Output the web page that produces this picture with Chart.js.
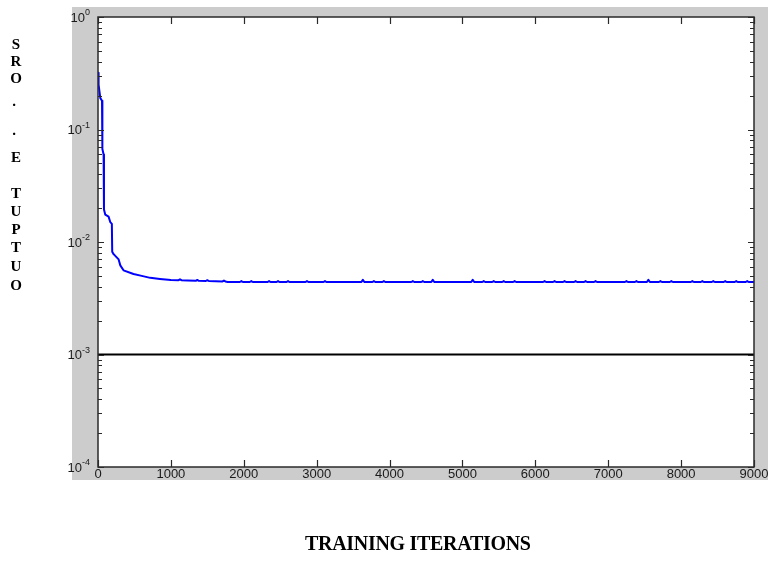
<!DOCTYPE html>
<html>
<head>
<meta charset="utf-8">
<script src="https://cdn.jsdelivr.net/npm/chart.js@4.4.0/dist/chart.umd.min.js"></script>
<style>
body { margin: 0; background: #fff; }
#wrap { position: relative; width: 768px; height: 562px; overflow: hidden; }
canvas { position: absolute; left: 0; top: 0; }
.yl { position: absolute; left: 6px; width: 20px; text-align: center; font: bold 15px "Liberation Serif", serif; line-height: 16px; color: #000; }
#xt { position: absolute; left: 305px; top: 533px; font: bold 20px "Liberation Serif", serif; line-height: 20px; color: #000; white-space: nowrap; letter-spacing: -0.3px; }
</style>
</head>
<body>
<div id="wrap">
  <canvas id="chart" width="768" height="562"></canvas>
  <div id="ytitle"></div>
  <div id="xt">TRAINING ITERATIONS</div>
</div>
<script>
// training error curve (iteration, error); small bumps are the spikes on the plateau
const iterations = [
  0, 8, 32, 55, 60, 77, 82, 100, 145, 169, 190, 195, 214, 283, 306, 350, 487, 600, 717, 850, 1000,
  1105, 1125, 1145,
  1225,
  1342, 1362, 1382,
  1480, 1500, 1520,
  1708, 1728, 1748,
  1780,
  1947, 1967, 1987,
  2083, 2103, 2123,
  2327, 2347, 2367,
  2450, 2470, 2490,
  2587, 2607, 2627,
  2847, 2867, 2887,
  3094, 3114, 3134,
  3614, 3634, 3654,
  3765, 3785, 3805,
  3902, 3922, 3942,
  4299, 4319, 4339,
  4436, 4456, 4476,
  4573, 4593, 4613,
  5121, 5141, 5161,
  5272, 5292, 5312,
  5409, 5429, 5449,
  5546, 5566, 5586,
  5696, 5716, 5736,
  6107, 6127, 6147,
  6244, 6264, 6284,
  6381, 6401, 6421,
  6532, 6552, 6572,
  6669, 6689, 6709,
  6806, 6826, 6846,
  7230, 7250, 7270,
  7367, 7387, 7407,
  7531, 7551, 7571,
  7696, 7716, 7736,
  7846, 7866, 7886,
  8134, 8154, 8174,
  8271, 8291, 8311,
  8421, 8441, 8461,
  8585, 8605, 8625,
  8736, 8756, 8776,
  8887, 8907, 8927,
  9000
];
const errors = [
  0.32, 0.25, 0.19, 0.18, 0.067, 0.06, 0.0194, 0.0175, 0.0168, 0.015, 0.0145, 0.0082, 0.0078, 0.0070, 0.0062, 0.0056, 0.0052, 0.0050, 0.0048, 0.0047, 0.0046,
  0.00458, 0.00466, 0.00458,
  0.00455,
  0.00452, 0.0046, 0.00452,
  0.0045, 0.00458, 0.0045,
  0.00446, 0.00454, 0.00446,
  0.00441,
  0.00441, 0.00449, 0.00441,
  0.00441, 0.00449, 0.00441,
  0.00441, 0.00449, 0.00441,
  0.00441, 0.00449, 0.00441,
  0.00441, 0.00449, 0.00441,
  0.00441, 0.00449, 0.00441,
  0.00441, 0.00449, 0.00441,
  0.00441, 0.00462, 0.00441,
  0.00441, 0.00449, 0.00441,
  0.00441, 0.00449, 0.00441,
  0.00441, 0.00449, 0.00441,
  0.00441, 0.00449, 0.00441,
  0.00441, 0.00462, 0.00441,
  0.00441, 0.00462, 0.00441,
  0.00441, 0.00449, 0.00441,
  0.00441, 0.00449, 0.00441,
  0.00441, 0.00449, 0.00441,
  0.00441, 0.00449, 0.00441,
  0.00441, 0.00449, 0.00441,
  0.00441, 0.00449, 0.00441,
  0.00441, 0.00449, 0.00441,
  0.00441, 0.00449, 0.00441,
  0.00441, 0.00449, 0.00441,
  0.00441, 0.00449, 0.00441,
  0.00441, 0.00449, 0.00441,
  0.00441, 0.00449, 0.00441,
  0.00441, 0.00462, 0.00441,
  0.00441, 0.00449, 0.00441,
  0.00441, 0.00449, 0.00441,
  0.00441, 0.00449, 0.00441,
  0.00441, 0.00449, 0.00441,
  0.00441, 0.00449, 0.00441,
  0.00441, 0.00449, 0.00441,
  0.00441, 0.00449, 0.00441,
  0.00441, 0.00449, 0.00441,
  0.00441
];

// goal line
const goalIters = [0, 9000];
const goalErrors = [0.001, 0.001];

// axis ticks
const xTicks = [0, 1000, 2000, 3000, 4000, 5000, 6000, 7000, 8000, 9000];
const yMajor = [1e-4, 1e-3, 1e-2, 1e-1, 1];
const yExponents = ['-4', '-3', '-2', '-1', '0'];
const yMinorSteps = [2, 3, 4, 5, 6, 7, 8, 9];

// stacked y-axis title, as printed
const yTitle = ['S', 'R', 'O', '.', '.', 'E', 'T', 'U', 'P', 'T', 'U', 'O'];
const yTitlePos = [44, 61, 78, 101, 130, 157, 193, 211, 229, 247, 266, 285];

const yt = document.getElementById('ytitle');
yTitle.forEach((ch, i) => {
  const s = document.createElement('div');
  s.className = 'yl';
  s.textContent = ch;
  s.style.top = (yTitlePos[i] - 8) + 'px';
  if (ch === '.') s.style.left = '4px';
  yt.appendChild(s);
});

const axisColor = '#2a2a2a';

const frame = {
  id: 'frame',
  beforeDraw(chart) {
    const c = chart.ctx;
    const a = chart.chartArea;
    c.save();
    c.fillStyle = '#cccccc';
    c.fillRect(72, 7, 696, 473);
    c.fillStyle = '#ffffff';
    c.fillRect(a.left, a.top, a.right - a.left, a.bottom - a.top);
    c.restore();
  },
  afterDraw(chart) {
    const c = chart.ctx;
    const a = chart.chartArea;
    const xs = chart.scales.x;
    const ys = chart.scales.y;
    c.save();
    c.strokeStyle = axisColor;
    c.lineWidth = 1.5;
    c.strokeRect(a.left, a.top, a.right - a.left, a.bottom - a.top);

    c.lineWidth = 1.2;
    c.beginPath();
    xTicks.forEach(v => {
      const px = Math.round(xs.getPixelForValue(v)) + 0.5;
      c.moveTo(px, a.bottom); c.lineTo(px, a.bottom - 7);
      c.moveTo(px, a.top); c.lineTo(px, a.top + 7);
    });
    yMajor.forEach((v, i) => {
      const py = Math.round(ys.getPixelForValue(v)) + 0.5;
      c.moveTo(a.left, py); c.lineTo(a.left + 6, py);
      c.moveTo(a.right, py); c.lineTo(a.right - 6, py);
      if (i < yMajor.length - 1) {
        yMinorSteps.forEach(m => {
          const pm = Math.round(ys.getPixelForValue(v * m)) + 0.5;
          c.moveTo(a.left, pm); c.lineTo(a.left + 4, pm);
          c.moveTo(a.right, pm); c.lineTo(a.right - 4, pm);
        });
      }
    });
    c.stroke();

    // x tick labels
    c.fillStyle = '#1a1a1a';
    c.font = '13px "Liberation Sans", Arial, sans-serif';
    c.textAlign = 'center';
    c.textBaseline = 'top';
    xTicks.forEach(v => {
      c.fillText(String(v), xs.getPixelForValue(v), a.bottom + 1);
    });

    // y tick labels 10^n
    yMajor.forEach((v, i) => {
      const py = ys.getPixelForValue(v);
      const right = 90;
      c.font = '9px "Liberation Sans", Arial, sans-serif';
      c.textAlign = 'right';
      c.textBaseline = 'alphabetic';
      const ew = c.measureText(yExponents[i]).width;
      c.fillText(yExponents[i], right, py - 2);
      c.font = '13px "Liberation Sans", Arial, sans-serif';
      c.textBaseline = 'middle';
      c.fillText('10', right - ew, py + 1);
    });
    c.restore();
  }
};

const ctx = document.getElementById('chart').getContext('2d');
const chart = new Chart(ctx, {
  type: 'line',
  data: {
    datasets: [
      {
        data: iterations.map((x, i) => ({ x: x, y: errors[i] })),
        borderColor: '#0000ff',
        borderWidth: 2,
        borderJoinStyle: 'round',
        pointRadius: 0,
        tension: 0,
        fill: false
      },
      {
        data: goalIters.map((x, i) => ({ x: x, y: goalErrors[i] })),
        borderColor: '#000000',
        borderWidth: 2,
        pointRadius: 0,
        tension: 0,
        fill: false
      }
    ]
  },
  options: {
    responsive: false,
    animation: false,
    layout: { padding: { left: 98, top: 17, right: 14, bottom: 95 } },
    plugins: { legend: { display: false }, tooltip: { enabled: false } },
    scales: {
      x: { type: 'linear', min: 0, max: 9000, display: false },
      y: { type: 'logarithmic', min: 1e-4, max: 1, display: false }
    }
  },
  plugins: [frame]
});
</script>
</body>
</html>
